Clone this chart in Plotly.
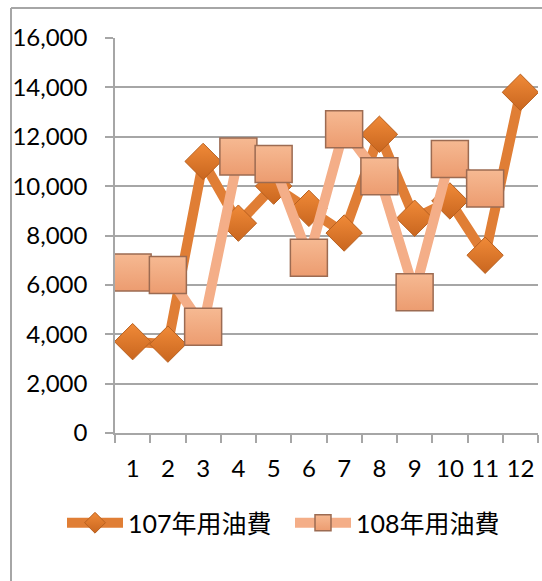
import plotly.graph_objects as go

months = [str(i) for i in range(1, 13)]
fuel_107 = [3700, 3600, 11000, 8500, 10000, 9100, 8100, 12100, 8700, 9400, 7200, 13800]
fuel_108 = [6500, 6400, 4300, 11200, 10900, 7100, 12300, 10400, 5700, 11100, 9900]
name_107 = "107年用油費"
name_108 = "108年用油費"
y_ticks = [0, 2000, 4000, 6000, 8000, 10000, 12000, 14000, 16000]

FONT = "Lato, 'Noto Sans CJK TC', sans-serif"
W, H = 542, 581
ML, MR, MT, MB = 115, 4, 38, 148
pw, ph = W - ML - MR, H - MT - MB

fig = go.Figure()
fig.add_trace(go.Scatter(
    x=months, y=fuel_107, name=name_107, mode="lines+markers", legend="legend",
    line=dict(color="#E07E35", width=10),
    marker=dict(symbol="diamond", size=28, color="#F08A38",
                gradient=dict(type="vertical", color="#C9661F"),
                line=dict(color="#B8601F", width=1)),
))
fig.add_trace(go.Scatter(
    x=months[:len(fuel_108)], y=fuel_108, name=name_108, mode="lines+markers", legend="legend2",
    line=dict(color="#F4AE88", width=10),
    marker=dict(symbol="square", size=37, color="#F6B992",
                gradient=dict(type="vertical", color="#EC9C70"),
                line=dict(color="#9C6B52", width=1.5)),
))

# outer chart frame (left and top edges visible)
fx0 = (11 - ML) / pw
fy1 = 1 + (MT - 8) / ph
fig.add_shape(type="line", xref="paper", yref="paper", x0=fx0, x1=fx0, y0=-1, y1=fy1,
              line=dict(color="#A6A6A6", width=2))
fig.add_shape(type="line", xref="paper", yref="paper", x0=fx0, x1=1.2, y0=fy1, y1=fy1,
              line=dict(color="#A6A6A6", width=2))

leg_y = -(523 - MT - ph) / ph
leg_common = dict(orientation="h", xanchor="left", yanchor="middle", y=leg_y,
                  font=dict(size=25), itemwidth=56, bgcolor="rgba(0,0,0,0)")

fig.update_layout(
    width=W, height=H,
    margin=dict(l=ML, r=MR, t=MT, b=MB, autoexpand=False),
    paper_bgcolor="white", plot_bgcolor="white",
    font=dict(family=FONT, size=24, color="#000000"),
    showlegend=True,
    legend=dict(x=(62 - ML) / pw, **leg_common),
    legend2=dict(x=(290 - ML) / pw, **leg_common),
    xaxis=dict(type="category", categoryorder="array", categoryarray=months,
               range=[-0.5, 11.5], showgrid=False, showline=True,
               linecolor="#A6A6A6", linewidth=1.5, ticks="outside",
               tickson="boundaries", ticklen=8, tickcolor="#A6A6A6", tickwidth=1.5,
               ticklabelstandoff=13, tickangle=0, automargin=False, zeroline=False),
    yaxis=dict(range=[0, 16000], tickvals=y_ticks, tickformat=",",
               showgrid=True, gridcolor="#A6A6A6", gridwidth=1.5,
               showline=True, linecolor="#A6A6A6", linewidth=1.5,
               ticks="outside", ticklen=8, tickcolor="#A6A6A6", tickwidth=1.5,
               ticklabelstandoff=13, automargin=False, zeroline=False),
)

fig.write_html("out.html", config={"displayModeBar": False},
               post_script="document.body.style.margin='0';")
